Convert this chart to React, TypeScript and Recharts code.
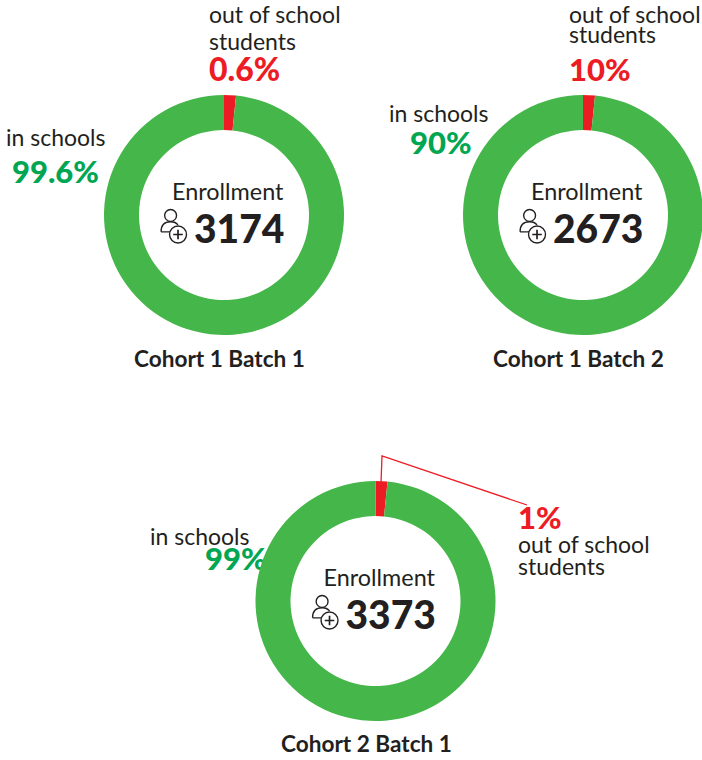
import React from "react";
import { PieChart, Pie, Cell } from "recharts";

const FONT = "Lato, 'Open Sans', sans-serif";
const RED = "#ED1C24";
const RING = "#45B649";
const GREEN_TEXT = "#00A651";
const DARK = "#231F20";

const cohortNames = ["Cohort 1 Batch 1", "Cohort 1 Batch 2", "Cohort 2 Batch 1"];
const enrollments = ["3174", "2673", "3373"];
const outLabels = ["0.6%", "10%", "1%"];
const inLabels = ["99.6%", "90%", "99%"];
// Slice shares as drawn in the picture (the red wedge has the same size in all three)
const outShare = [1.6, 1.6, 1.6];
const inShare = [98.4, 98.4, 98.4];

const centers = [
  { cx: 224, cy: 215, nameX: 134, nameY: 367 },
  { cx: 583, cy: 215, nameX: 493, nameY: 367 },
  { cx: 375.5, cy: 601, nameX: 281, nameY: 752 },
];

const T = ({ x, y, size, weight = 400, fill = DARK, children, spacing }: any) => (
  <text x={x} y={y} fontSize={size} fontWeight={weight} fill={fill} fontFamily={FONT} letterSpacing={spacing}>
    {children}
  </text>
);

const UserPlus = ({ x, y }: { x: number; y: number }) => (
  <g transform={`translate(${x},${y}) scale(1.06)`} fill="none" stroke={DARK} strokeWidth={1.3}>
    <circle cx={10} cy={7} r={5.6} />
    <path d="M1 22.5 C1 15.5 5 13 10 13 C13 13 15.5 14 17 16 M1 22.5 L10 22.5" />
    <circle cx={17} cy={25} r={8} fill="#fff" />
    <path d="M12.5 25 H21.5 M17 20.5 V29.5" strokeWidth={1.6} />
  </g>
);

const Center = ({ i }: { i: number }) => {
  const { cx, cy, nameX, nameY } = centers[i];
  return (
    <g>
      <T x={cx - 52} y={cy - 15} size={23.4}>Enrollment</T>
      <UserPlus x={cx - 64} y={cy - 7} />
      <T x={cx - 30} y={cy + 28} size={39} weight={900}>{enrollments[i]}</T>
      <T x={nameX} y={nameY} size={22.6} weight={700}>{cohortNames[i]}</T>
    </g>
  );
};

export default function App() {
  return (
    <div style={{ position: "absolute", left: 0, top: 0, width: 702, height: 760, overflow: "hidden" }}>
      <PieChart width={702} height={760} margin={{ top: 0, right: 0, bottom: 0, left: 0 }}>
        {centers.map((c, i) => (
          <Pie
            key={i}
            data={[
              { name: "out of school students", value: outShare[i] },
              { name: "in schools", value: inShare[i] },
            ]}
            dataKey="value"
            cx={c.cx}
            cy={c.cy}
            innerRadius={85}
            outerRadius={120}
            startAngle={90}
            endAngle={-270}
            stroke="none"
            isAnimationActive={false}
          >
            <Cell fill={RED} />
            <Cell fill={RING} />
          </Pie>
        ))}
        {centers.map((_, i) => <Center key={i} i={i} />)}

        <T x={209} y={23} size={23}>out of school</T>
        <T x={209} y={50} size={23}>students</T>
        <T x={209} y={81} size={32} weight={900} fill={RED}>{outLabels[0]}</T>
        <T x={6} y={146} size={23}>in schools</T>
        <T x={12} y={183} size={31} weight={900} fill={GREEN_TEXT}>{inLabels[0]}</T>

        <T x={569} y={23} size={23}>out of school</T>
        <T x={569} y={43} size={23}>students</T>
        <T x={569} y={81} size={31} weight={900} fill={RED}>{outLabels[1]}</T>
        <T x={389} y={122} size={23}>in schools</T>
        <T x={410} y={154} size={31} weight={900} fill={GREEN_TEXT}>{inLabels[1]}</T>

        <polyline points="381,483 382,456 527,505" fill="none" stroke={RED} strokeWidth={1.3} />
        <T x={518} y={529} size={31} weight={900} fill={RED}>{outLabels[2]}</T>
        <T x={518} y={553} size={23}>out of school</T>
        <T x={518} y={575} size={23}>students</T>
        <T x={150} y={545} size={23}>in schools</T>
        <T x={205} y={570} size={31} weight={900} fill={GREEN_TEXT}>{inLabels[2]}</T>
      </PieChart>
    </div>
  );
}
